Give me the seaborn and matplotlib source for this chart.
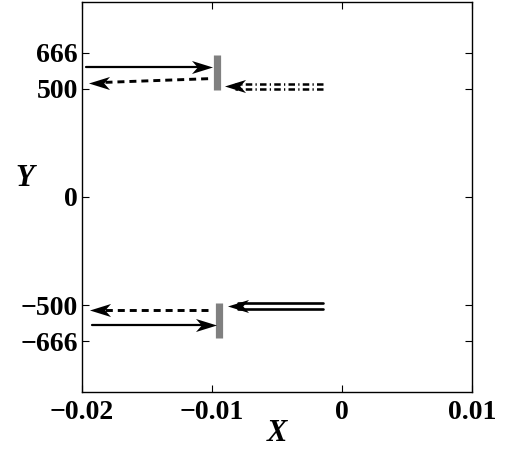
import numpy as np
import pandas as pd
import matplotlib
matplotlib.use("Agg")
import matplotlib.pyplot as plt
from matplotlib.path import Path
import seaborn as sns

# ---- data ----
x_ticks = [-0.02, -0.01, 0, 0.01]
x_tick_labels = ["\u22120.02", "\u22120.01", "0", "0.01"]
y_ticks = [-666, -500, 0, 500, 666]
y_tick_labels = ["\u2212666", "\u2212500", "0", "500", "666"]

# gray bars (x, y_low, y_high)
bar_x = [-0.00964, -0.00946]
bar_ylo = [495, -653]
bar_yhi = [657, -491]

# arrows: tail (x0, y0) -> head tip (x1, y1)
arrow_names = ["top_solid", "top_dashed", "top_dashdot_double",
               "bot_double", "bot_dashed", "bot_solid"]
arrow_x0 = [-0.0197, -0.0103, -0.0015, -0.0015, -0.0103, -0.0192]
arrow_y0 = [602, 546, 510, -502, -523, -593]
arrow_x1 = [-0.0102, -0.0193, -0.0088, -0.0086, -0.0192, -0.0099]
arrow_y1 = [602, 528, 510, -502, -523, -593]
arrow_style = ["solid", "dashed", "dashdot2", "double", "dashed", "solid"]

sns.set_theme(style="white")
plt.rcParams["font.family"] = ["Liberation Serif", "DejaVu Serif"]
plt.rcParams["font.weight"] = "bold"
plt.rcParams["text.color"] = "black"
plt.rcParams["axes.labelcolor"] = "black"

fig = plt.figure(figsize=(5.07, 4.5), dpi=100)
ax = fig.add_axes([82 / 507, 1 - 392 / 450, 390 / 507, 390 / 450])

xlim = (-0.02, 0.01)
ylim = (-900, 900)

# bars
bars = pd.DataFrame({"x": bar_x * 2, "y": bar_ylo + bar_yhi,
                     "id": [0, 1, 0, 1]})
for i, g in bars.groupby("id"):
    sns.lineplot(data=g, x="x", y="y", ax=ax, color="#808080", lw=5.2,
                 solid_capstyle="butt", estimator=None, sort=False, legend=False)

px_x = (xlim[1] - xlim[0]) / 390.0
px_y = (ylim[1] - ylim[0]) / 390.0
dy = 2.8 * px_y

# stealth-shaped arrow heads
head_r = Path([(1, 0), (-1, 0.62), (-0.45, 0), (-1, -0.62), (1, 0)],
              [Path.MOVETO, Path.LINETO, Path.LINETO, Path.LINETO, Path.CLOSEPOLY])
head_l = Path([(-1, 0), (1, 0.62), (0.45, 0), (1, -0.62), (-1, 0)],
              [Path.MOVETO, Path.LINETO, Path.LINETO, Path.LINETO, Path.CLOSEPOLY])
head_len_px = 15.0

for name, x0, y0, x1, y1, st in zip(arrow_names, arrow_x0, arrow_y0,
                                    arrow_x1, arrow_y1, arrow_style):
    sgn = 1 if x1 > x0 else -1
    hx = x1 - sgn * head_len_px / 2 * px_x
    if st in ("solid", "dashed"):
        df = pd.DataFrame({"x": [x0, hx], "y": [y0, y1]})
        ls = "-" if st == "solid" else (0, (2.4, 1.7))
        lw = 1.6 if st == "solid" else 2.1
        sns.lineplot(data=df, x="x", y="y", ax=ax, color="black", lw=lw,
                     linestyle=ls, estimator=None, sort=False, legend=False)
    else:
        if st == "double":
            ls, lw, off = "-", 1.9, dy
        else:
            ls, lw, off = (0, (2.6, 1.3, 0.5, 1.3)), 1.8, 2.4 * px_y
        for o in (-off, off):
            df = pd.DataFrame({"x": [x0, hx], "y": [y0 + o, y1 + o]})
            sns.lineplot(data=df, x="x", y="y", ax=ax, color="black", lw=lw,
                         linestyle=ls, estimator=None, sort=False, legend=False)
    hd = pd.DataFrame({"x": [hx], "y": [y1]})
    sns.scatterplot(data=hd, x="x", y="y", ax=ax, color="black",
                    marker=head_r if sgn > 0 else head_l, s=230,
                    linewidth=0, legend=False, zorder=5)

ax.set_xlim(xlim)
ax.set_ylim(ylim)
ax.set_xticks(x_ticks)
ax.set_xticklabels(x_tick_labels)
ax.set_yticks(y_ticks)
ax.set_yticklabels(y_tick_labels)
ax.tick_params(direction="in", length=5, width=0.8, colors="black",
               top=True, right=True, bottom=True, left=True,
               labelsize=20, pad=3)
ax.tick_params(axis="x", pad=6)
for lab in ax.get_xticklabels() + ax.get_yticklabels():
    lab.set_fontweight("bold")
for sp in ax.spines.values():
    sp.set_color("black")
    sp.set_linewidth(1.0)

ax.set_xlabel("X", fontsize=22, fontweight="bold", fontstyle="italic",
              color="black")
ax.set_ylabel("Y", fontsize=22, fontweight="bold", fontstyle="italic",
              rotation=0, color="black")
ax.xaxis.set_label_coords(0.5, -0.068)
ax.yaxis.set_label_coords(-0.146, 0.51)
ax.grid(False)

fig.savefig("out.png", dpi=100)
